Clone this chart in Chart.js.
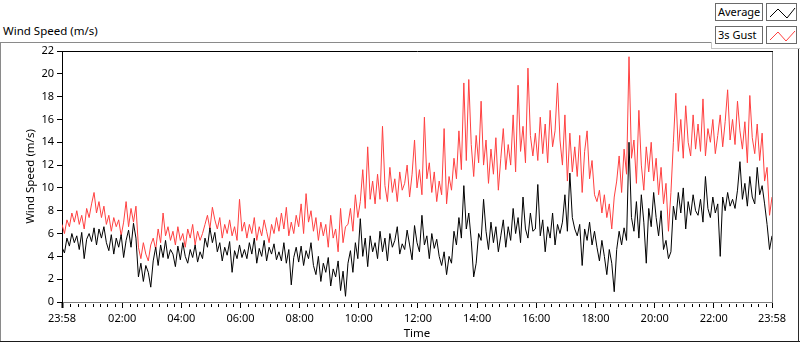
<!DOCTYPE html>
<html>
<head>
<meta charset="utf-8">
<title>Wind Speed</title>
<script src="https://cdn.jsdelivr.net/npm/chart.js@4.4.1/dist/chart.umd.min.js"></script>
<style>
  html, body { margin: 0; padding: 0; background: #fff; }
  body { position: relative; width: 800px; height: 342px; overflow: hidden; font-family: "Noto Sans", sans-serif; color: #000; }
  .ln { position: absolute; }
  #chart { position: absolute; left: 0; top: 0; }
  .title { position: absolute; left: 3px; top: 23px; font-size: 11.5px; line-height: 16px; }
  .legbox { position: absolute; box-sizing: border-box; border: 1px solid #6a6a6a; background: #fff; font-size: 11px; line-height: 15px; padding-left: 2px; white-space: nowrap; }
  .legline { position: absolute; box-sizing: border-box; border: 1px solid #6a6a6a; background: #fff; }
  .legline svg { position: absolute; left: 0; top: 0; }
</style>
</head>
<body>
<div class="title">Wind Speed (m/s)</div>

<!-- panel frame -->
<div class="ln" style="left:0;top:42px;width:712px;height:1px;background:#8a8a8a"></div>
<div class="ln" style="left:711px;top:42px;width:1px;height:7px;background:#c4c4c4"></div>
<div class="ln" style="left:711px;top:48px;width:89px;height:1px;background:#c4c4c4"></div>
<div class="ln" style="left:0;top:42px;width:1px;height:300px;background:#8a8a8a"></div>
<div class="ln" style="left:0;top:341px;width:800px;height:1px;background:#1a1a1a"></div>
<div class="ln" style="left:798px;top:49px;width:1px;height:293px;background:#2a2a2a"></div>

<canvas id="chart" width="800" height="342"></canvas>

<!-- legend -->
<div class="legbox" style="left:715px;top:3px;width:48px;height:18px">Average</div>
<div class="legline" style="left:766px;top:3px;width:31px;height:18px">
  <svg width="31" height="18"><polyline points="3,13 11,5 20,14 28,4" fill="none" stroke="#000" stroke-width="1"/></svg>
</div>
<div class="legbox" style="left:715px;top:26px;width:48px;height:18px">3s Gust</div>
<div class="legline" style="left:766px;top:26px;width:31px;height:18px">
  <svg width="31" height="18"><polyline points="3,13 11,5 19,14 28,4" fill="none" stroke="#ff4040" stroke-width="1"/></svg>
</div>

<script>
// Samples every 5 minutes, starting 23:58
const stepMinutes = 5;

// Average wind speed (m/s)
const avgSpeed = [
  4.8, 4.3, 5.6,
  4.9, 6.0, 5.2, 5.8, 4.6, 6.1, 3.8, 5.5, 6.0,
  5.3, 6.5, 5.0, 6.4, 5.6, 6.6,
  5.2, 4.5, 5.9, 4.2, 5.6, 4.8, 5.9, 3.9,
  5.4, 6.3, 4.8, 6.9, 5.6,
  2.2, 3.4, 1.8, 3.2, 2.6, 1.3,
  3.6, 4.8, 3.2, 5.0, 3.9, 5.4, 3.8, 4.6,
  4.2, 3.1, 4.9, 3.7, 5.2, 4.0, 3.4, 4.6, 3.9, 5.0, 3.5, 4.4, 3.8,
  5.6, 4.8, 6.5, 5.2, 6.1,
  4.4, 5.2, 3.6, 4.8, 4.1, 5.3, 2.6, 4.5, 3.8, 5.0, 3.9, 4.6,
  3.8, 5.2, 4.2, 5.6, 3.4, 4.7, 4.0, 5.4, 3.6, 4.8, 4.2, 5.1, 3.7,
  4.4, 3.6, 5.2, 3.4, 4.6, 1.5, 3.9, 4.8,
  3.5, 4.9, 3.2, 4.5, 3.8, 5.2,
  3.2, 2.4, 4.0, 1.8, 3.4, 2.6, 3.9, 1.4, 2.9, 2.2, 3.6, 1.0, 2.7, 0.5,
  3.4, 4.5, 2.6, 5.2, 3.8, 7.3, 4.0, 5.6, 3.1, 5.8, 4.4,
  5.2, 3.8, 6.2, 4.4, 5.6, 3.6, 6.0, 4.8, 5.4, 6.6, 4.2, 5.1,
  4.6, 6.3, 5.0, 3.7, 6.7, 5.2, 4.4, 7.6, 5.0, 5.8, 3.8, 6.0, 4.7, 5.5, 4.0,
  3.2, 4.4, 2.4, 4.0, 3.4,
  6.2, 5.0, 7.4, 5.6, 10.2, 6.4, 7.8, 5.4, 2.2, 3.4, 6.0,
  5.4, 9.0, 6.2, 4.6, 7.0, 5.2, 6.6, 4.4, 5.8, 7.2, 4.8,
  6.6, 5.4, 8.2, 6.0, 7.4, 5.2, 9.2, 6.4, 5.6, 7.8, 6.2,
  6.4, 10.3, 5.8, 7.2, 4.4, 6.6, 5.6, 7.8, 5.0, 6.8, 6.0,
  7.0, 9.4, 6.2, 11.3, 7.4, 6.4,
  5.8, 6.8, 3.2, 6.4, 5.4, 7.0, 5.0, 6.2,
  4.8, 3.6, 5.4, 4.0, 2.4, 4.6, 3.4, 0.9,
  4.6, 6.2, 5.0, 6.5, 5.4,
  14.0,
  7.4, 6.2, 8.8, 5.6, 9.4, 7.0, 3.4, 8.2, 6.6, 9.6, 7.4, 5.8, 8.0,
  4.6, 5.4, 3.8, 4.4,
  8.4, 7.2, 9.6, 7.8, 10.0, 6.4, 8.8, 7.6, 9.4, 8.0,
  7.6, 9.0, 7.0, 11.0, 8.2, 7.4, 9.2, 7.8,
  8.6, 4.0, 9.2, 8.0, 9.6, 8.4, 9.0, 8.2, 9.8, 12.3,
  9.0, 10.4, 8.4, 11.0, 9.2, 8.6, 11.8, 9.4, 10.2,
  8.6, 6.8, 4.6, 5.8
];

// 3 s gust wind speed (m/s)
const gustSpeed = [
  6.8, 6.0, 7.2,
  6.6, 7.8, 7.0, 8.0, 6.8, 7.6, 6.4, 8.2, 7.4,
  8.6, 9.6, 7.8, 8.8, 7.4, 8.4,
  6.8, 7.6, 6.2, 7.4, 6.6, 7.2, 5.8, 7.0,
  8.8, 6.6, 8.2, 7.0, 8.4,
  4.8, 3.8, 5.2, 4.2, 3.6, 5.0,
  5.6, 4.6, 6.4, 5.2, 7.8, 5.8, 6.6, 5.4,
  6.2, 5.0, 6.6, 5.4, 6.0, 4.8, 6.4, 5.6, 6.8, 5.0, 6.2, 5.4, 6.0,
  6.8, 7.6, 6.4, 8.3, 7.2,
  6.4, 7.4, 5.6, 6.8, 6.0, 7.2, 5.8, 6.6, 5.4, 9.0, 6.2, 7.0,
  5.6, 6.8, 6.0, 7.4, 5.4, 6.6, 5.8, 7.2, 6.2, 5.2, 6.8, 6.0, 7.4,
  6.2, 7.8, 6.4, 8.3, 5.8, 7.0, 6.0, 7.6,
  6.6, 8.6, 6.0, 9.5, 7.0, 8.0,
  6.2, 7.4, 5.4, 7.0, 5.8, 6.8, 4.8, 7.6, 5.6, 6.4, 4.4, 8.2, 5.2, 6.6,
  6.8, 8.2, 6.2, 9.4, 7.4, 8.8, 11.6, 8.2, 13.6, 9.0, 10.6,
  8.6, 11.2, 9.0, 15.4, 10.2, 8.8, 11.8, 9.6, 10.8, 8.8, 11.4, 9.8,
  10.4, 12.0, 9.2, 11.2, 14.2, 10.0, 11.6, 9.4, 16.2, 10.8, 12.2, 9.6, 11.4, 8.8, 10.6,
  9.4, 15.2, 8.6, 11.0, 9.8,
  12.6, 10.8, 15.0, 11.6, 19.2, 12.4, 19.5, 13.8, 11.0, 14.6, 12.2,
  17.6, 12.0, 14.2, 10.4, 13.4, 11.2, 14.4, 9.8, 12.6, 15.2, 11.6,
  13.8, 12.0, 16.4, 11.4, 19.0, 13.2, 15.4, 12.2, 20.5, 14.6, 12.8,
  14.8, 12.4, 16.2, 13.0, 15.6, 12.2, 16.8, 13.6, 15.0, 19.2, 14.2,
  12.0, 16.4, 10.6, 14.8, 11.4, 13.6,
  11.0, 14.6, 9.6, 13.2, 15.0, 10.8, 12.4, 9.4,
  8.8, 9.8, 7.8, 9.4, 7.4, 8.6, 6.4, 9.2,
  10.6, 12.8, 9.6, 13.4, 11.2,
  21.5,
  12.6, 14.2, 10.4, 16.8, 12.0, 9.8, 13.6, 11.4, 14.0, 10.6, 12.6, 9.4, 11.8,
  8.6, 10.4, 6.2, 9.6,
  14.0, 18.3, 13.2, 16.0, 12.6, 17.2, 14.0, 12.8, 16.4, 13.4,
  15.6, 13.2, 17.8, 12.8, 15.2, 14.0, 16.0, 13.0,
  14.6, 16.4, 13.6, 15.8, 18.6, 14.2, 16.0, 13.8, 17.6, 15.0,
  13.4, 15.8, 12.2, 18.1, 14.4, 13.0, 15.6, 12.4, 14.8,
  10.6, 11.8, 7.6, 9.2
];

// Time axis labels (minutes after 23:58)
const tickMinutes = [0, 122, 242, 362, 482, 602, 722, 842, 962, 1082, 1202, 1322, 1440];
const tickLabels = ['23:58', '02:00', '04:00', '06:00', '08:00', '10:00', '12:00',
                    '14:00', '16:00', '18:00', '20:00', '22:00', '23:58'];

const FONT = '"Noto Sans", sans-serif';

// plot frame + minor time ticks
const framePlugin = {
    id: 'frame',
    afterDraw(chart) {
        const { ctx, chartArea: a, scales: { x } } = chart;
        ctx.save();
        ctx.lineWidth = 1;
        ctx.strokeStyle = '#000';
        ctx.beginPath();
        ctx.moveTo(a.left, a.top + 0.5);
        ctx.lineTo(a.right + 1, a.top + 0.5);
        ctx.stroke();
        ctx.strokeStyle = '#808080';
        ctx.beginPath();
        ctx.moveTo(a.right + 0.5, a.top + 1);
        ctx.lineTo(a.right + 0.5, a.bottom + 1);
        ctx.stroke();
        // minor ticks every 15 min
        ctx.strokeStyle = '#000';
        ctx.beginPath();
        for (let m = 2 + 15; m < 1440; m += 15) {
            if (tickMinutes.some(t => Math.abs(t - m) < 5)) continue;
            const px = Math.round(x.getPixelForValue(m)) + 0.5;
            ctx.moveTo(px, a.bottom + 2);
            ctx.lineTo(px, a.bottom + 5);
        }
        ctx.stroke();
        ctx.restore();
    }
};

const chart = new Chart(
    document.getElementById('chart'),
    {
        type: 'line',
        data: {
            datasets: [
                {
                    label: 'Average',
                    data: avgSpeed.map((v, i) => ({ x: i * stepMinutes, y: v })),
                    borderColor: '#000000',
                    order: 0
                },
                {
                    label: '3s Gust',
                    data: gustSpeed.map((v, i) => ({ x: i * stepMinutes, y: v })),
                    borderColor: '#ff4040',
                    order: 1
                }
            ]
        },
        options: {
            responsive: false,
            animation: false,
            layout: { padding: { left: 0, right: 28, top: 51, bottom: 0 } },
            elements: {
                point: { radius: 0 },
                line: { borderWidth: 1, tension: 0 }
            },
            plugins: {
                legend: { display: false },
                tooltip: { enabled: false }
            },
            scales: {
                x: {
                    type: 'linear',
                    min: 0,
                    max: 1440,
                    afterBuildTicks: s => { s.ticks = tickMinutes.map(v => ({ value: v })); },
                    afterFit: s => { s.height = 40; },
                    ticks: {
                        autoSkip: false,
                        maxRotation: 0,
                        padding: 4,
                        color: '#000',
                        font: { family: FONT, size: 11 },
                        callback: (v, i) => tickLabels[i]
                    },
                    grid: {
                        drawOnChartArea: false,
                        drawTicks: true,
                        tickLength: 6,
                        color: '#000',
                        tickWidth: c => (c.index === 0 ? 2 : 1)
                    },
                    border: { display: true, color: '#808080' },
                    title: {
                        display: true,
                        text: 'Time',
                        color: '#000',
                        font: { family: FONT, size: 11.5 },
                        padding: { top: 0, bottom: 1 }
                    }
                },
                y: {
                    min: 0,
                    max: 22,
                    afterFit: s => { s.width = 62; },
                    ticks: {
                        stepSize: 2,
                        padding: 3,
                        color: '#000',
                        font: { family: FONT, size: 11 }
                    },
                    grid: {
                        drawOnChartArea: false,
                        drawTicks: true,
                        tickLength: 5,
                        color: '#000'
                    },
                    border: { display: true, color: '#000' },
                    title: {
                        display: true,
                        text: 'Wind Speed (m/s)',
                        color: '#000',
                        font: { family: FONT, size: 11.5 },
                        padding: { top: 24, bottom: 0 }
                    }
                }
            }
        },
        plugins: [framePlugin]
    }
);
</script>
</body>
</html>
